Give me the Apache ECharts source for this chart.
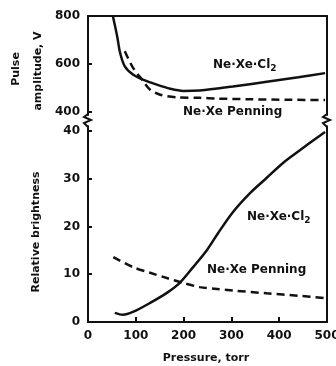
<!DOCTYPE html>
<html>
<head>
<meta charset="utf-8">
<script src="https://cdn.jsdelivr.net/npm/echarts@6/dist/echarts.min.js"></script>
<style>
html,body{margin:0;padding:0;background:#fff;}
#c{width:336px;height:366px;}
</style>
</head>
<body>
<div id="c"></div>
<script>
// ---- data ----
var pulseClPressure = [52, 61, 67, 77, 94, 115, 144, 172, 199, 234, 270, 303, 374, 440, 496];
var pulseClValue    = [800, 716, 648, 590, 556, 535, 514, 497, 488, 490, 498, 506, 526, 545, 562];
var pulsePenPressure = [77, 94, 113, 130, 151, 186, 234, 270, 340, 420, 496];
var pulsePenValue    = [653, 585, 535, 493, 472, 461, 459, 456, 453, 451, 450];
var brightClPressure = [56, 73, 94, 130, 165, 192, 220, 249, 272, 303, 339, 374, 408, 444, 479, 496];
var brightClValue    = [1.9, 1.5, 2.1, 4.0, 6.1, 8.2, 11.5, 15.1, 18.6, 23.0, 27.0, 30.2, 33.3, 36.0, 38.6, 39.8];
var brightPenPressure = [53, 94, 130, 165, 199, 234, 270, 303, 374, 440, 496];
var brightPenValue    = [13.6, 11.5, 10.3, 9.2, 8.2, 7.3, 6.9, 6.6, 6.0, 5.5, 5.0];
var pressureTicks = [0, 100, 200, 300, 400, 500];
var pulseTicks = [400, 600, 800];
var brightTicks = [0, 10, 20, 30, 40];

function pairs(xs, ys){ return xs.map(function(x,i){ return [x, ys[i]]; }); }

var FONT = '"DejaVu Sans", "Liberation Sans", sans-serif';
var INK = '#111';
var chart = echarts.init(document.getElementById('c'), null, {renderer:'canvas'});

var axisLineStyle = {show:true, lineStyle:{color:INK, width:2}};
var noLabel = {show:false};
var noTick = {show:false};

var option = {
  backgroundColor:'#fff',
  animation:false,
  grid:[
    {left:88, top:16, width:239, height:98.9, containLabel:false, outerBoundsMode:'none'},
    {left:88, top:126.2, width:239, height:195.8, containLabel:false, outerBoundsMode:'none'}
  ],
  xAxis:[
    {gridIndex:0, type:'value', position:'top', min:0, max:500, axisLine:axisLineStyle,
     axisTick:noTick, axisLabel:noLabel, splitLine:{show:false}},
    {gridIndex:1, type:'value', position:'bottom', min:0, max:500, axisLine:axisLineStyle,
     axisTick:{show:true, inside:true, length:5, lineStyle:{color:INK, width:2}, customValues:pressureTicks},
     axisLabel:{show:true, margin:8, color:INK, fontFamily:FONT, fontWeight:'bold', fontSize:12, customValues:pressureTicks},
     splitLine:{show:false}}
  ],
  yAxis:[
    {gridIndex:0, type:'value', position:'left', min:388, max:800, axisLine:axisLineStyle,
     axisTick:{show:true, inside:true, length:4, lineStyle:{color:INK, width:2}, customValues:pulseTicks},
     axisLabel:{show:true, margin:8, color:INK, fontFamily:FONT, fontWeight:'bold', fontSize:12, customValues:pulseTicks},
     splitLine:{show:false}},
    {gridIndex:0, type:'value', position:'right', min:388, max:800, axisLine:axisLineStyle,
     axisTick:noTick, axisLabel:noLabel, splitLine:{show:false}},
    {gridIndex:1, type:'value', position:'left', min:0, max:41, axisLine:axisLineStyle,
     axisTick:{show:true, inside:true, length:4, lineStyle:{color:INK, width:2}, customValues:brightTicks},
     axisLabel:{show:true, margin:8, color:INK, fontFamily:FONT, fontWeight:'bold', fontSize:12, customValues:brightTicks},
     splitLine:{show:false}},
    {gridIndex:1, type:'value', position:'right', min:0, max:41, axisLine:axisLineStyle,
     axisTick:noTick, axisLabel:noLabel, splitLine:{show:false}}
  ],
  series:[
    {type:'line', xAxisIndex:0, yAxisIndex:0, data:pairs(pulseClPressure, pulseClValue), smooth:0.3,
     showSymbol:false, lineStyle:{color:INK, width:2.5}},
    {type:'line', xAxisIndex:0, yAxisIndex:0, data:pairs(pulsePenPressure, pulsePenValue), smooth:0.3,
     showSymbol:false, lineStyle:{color:INK, width:2.5, type:[8,5]}},
    {type:'line', xAxisIndex:1, yAxisIndex:2, data:pairs(brightClPressure, brightClValue), smooth:0.3,
     showSymbol:false, lineStyle:{color:INK, width:2.5}},
    {type:'line', xAxisIndex:1, yAxisIndex:2, data:pairs(brightPenPressure, brightPenValue), smooth:0.3,
     showSymbol:false, lineStyle:{color:INK, width:2.5, type:[8,5]}}
  ],
  graphic:[
    {type:'polyline', shape:{points:[[88,114],[84,117],[91,120],[84,123],[88,127]]}, style:{stroke:INK, lineWidth:2, fill:null}},
    {type:'polyline', shape:{points:[[327,114],[323,117],[330,120],[323,123],[327,127]]}, style:{stroke:INK, lineWidth:2, fill:null}},
    {type:'text', x:16, y:69, rotation:Math.PI/2, style:{text:'Pulse', font:'bold 11px '+FONT, fill:INK, align:'center', verticalAlign:'middle'}},
    {type:'text', x:38, y:71, rotation:Math.PI/2, style:{text:'amplitude, V', font:'bold 11px '+FONT, fill:INK, align:'center', verticalAlign:'middle'}},
    {type:'text', x:36, y:232, rotation:Math.PI/2, style:{text:'Relative brightness', font:'bold 11px '+FONT, fill:INK, align:'center', verticalAlign:'middle'}},
    {type:'text', x:206, y:358, style:{text:'Pressure, torr', font:'bold 11px '+FONT, fill:INK, align:'center', verticalAlign:'middle'}},
    {type:'text', x:213, y:65, style:{text:'Ne·Xe·Cl{s|2}', font:'bold 12px '+FONT, fill:INK, align:'left', verticalAlign:'middle',
       rich:{s:{font:'bold 9px '+FONT, fill:INK, padding:[8,0,0,0]}}}},
    {type:'text', x:183, y:112, style:{text:'Ne·Xe Penning', font:'bold 12px '+FONT, fill:INK, align:'left', verticalAlign:'middle'}},
    {type:'text', x:247, y:217, style:{text:'Ne·Xe·Cl{s|2}', font:'bold 12px '+FONT, fill:INK, align:'left', verticalAlign:'middle',
       rich:{s:{font:'bold 9px '+FONT, fill:INK, padding:[8,0,0,0]}}}},
    {type:'text', x:207, y:270, style:{text:'Ne·Xe Penning', font:'bold 12px '+FONT, fill:INK, align:'left', verticalAlign:'middle'}}
  ]
};
chart.setOption(option);
</script>
</body>
</html>
